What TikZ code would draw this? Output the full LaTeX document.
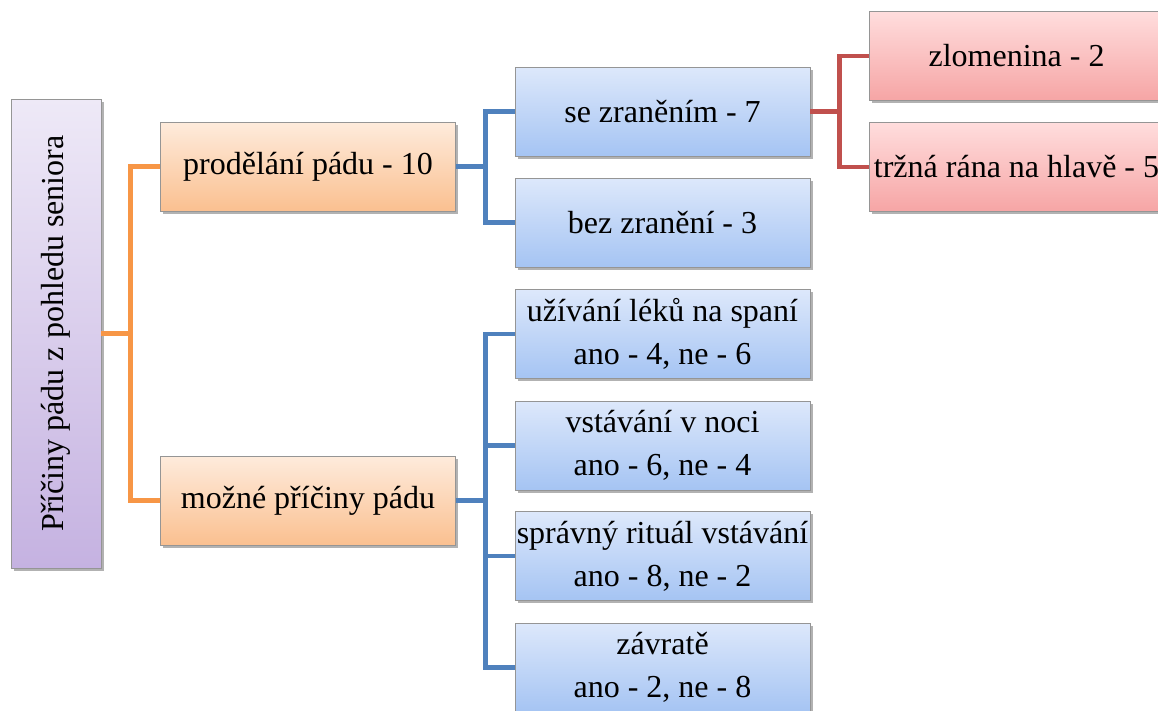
\documentclass[tikz,border=0pt]{standalone}
\usepackage{fontspec}
\usepackage{graphicx}
\setmainfont{Liberation Serif}
\usetikzlibrary{shadows,calc}

\definecolor{orTop}{HTML}{FEEBDC}
\definecolor{orBot}{HTML}{FAC090}
\definecolor{blTop}{HTML}{DDE8FB}
\definecolor{blBot}{HTML}{A5C4F3}
\definecolor{rdTop}{HTML}{FFDDDD}
\definecolor{rdBot}{HTML}{F6A5A5}
\definecolor{puTop}{HTML}{EEE9F7}
\definecolor{puBot}{HTML}{C5B2E1}
\definecolor{orLine}{HTML}{F79646}
\definecolor{blLine}{HTML}{4F81BD}
\definecolor{rdLine}{HTML}{C0504D}
\definecolor{edge}{HTML}{959595}

\tikzset{
  box/.style={draw=edge, line width=0.8pt, inner sep=0pt,
    minimum width=295pt, minimum height=89pt, align=center,
    font=\fontsize{32}{43}\selectfont,
    drop shadow={shadow xshift=2.5pt, shadow yshift=-2.5pt, fill=black, opacity=0.3}},
  orbox/.style={box, top color=orTop, bottom color=orBot},
  blbox/.style={box, top color=blTop, bottom color=blBot},
  rdbox/.style={box, top color=rdTop, bottom color=rdBot},
  pubox/.style={box, top color=puTop, bottom color=puBot,
    minimum width=90pt, minimum height=469pt},
  link/.style={line width=4.5pt},
}

\begin{document}
\begin{tikzpicture}[x=1pt, y=-1pt]
  \useasboundingbox (0,0) rectangle (1158,710);

  % root
  \node[pubox] (root) at (56,333.5) {\rotatebox{90}{Příčiny pádu z pohledu seniora}};

  % second level
  \node[orbox] (o1) at (308,166.5) {prodělání pádu - 10};
  \node[orbox] (o2) at (308,500.5) {možné příčiny pádu};

  % third level
  \node[blbox] (b1) at (662.5,111.5) {se zraněním - 7};
  \node[blbox] (b2) at (662.5,222.5) {bez zranění - 3};
  \node[blbox] (b3) at (662.5,334) {užívání léků na spaní\\ano - 4, ne - 6};
  \node[blbox] (b4) at (662.5,445.5) {vstávání v noci\\ano - 6, ne - 4};
  \node[blbox] (b5) at (662.5,556) {správný rituál vstávání\\ano - 8, ne - 2};
  \node[blbox] (b6) at (662.5,667.5) {závratě\\ano - 2, ne - 8};

  % fourth level
  \node[rdbox] (r1) at (1016.5,56) {zlomenina - 2};
  \node[rdbox] (r2) at (1016.5,167) {tržná rána na hlavě - 5};

  % elbow points
  \coordinate (e0) at (130.5,333.5);
  \coordinate (e1) at (485.5,166.5);
  \coordinate (e2) at (485.5,500.5);
  \coordinate (e3) at (839.5,111.5);

  % connectors
  \draw[link, orLine] (root.east) -- (e0) |- (o1.west);
  \draw[link, orLine] (e0) |- (o2.west);

  \draw[link, blLine] (o1.east) -- (e1) |- (b1.west);
  \draw[link, blLine] (e1) |- (b2.west);

  \draw[link, blLine] (o2.east) -- (e2) |- (b3.west);
  \draw[link, blLine] (e2) |- (b4.west);
  \draw[link, blLine] (e2) |- (b5.west);
  \draw[link, blLine] (e2) |- (b6.west);

  \draw[link, rdLine] (b1.east) -- (e3) |- (r1.west);
  \draw[link, rdLine] (e3) |- (r2.west);
\end{tikzpicture}
\end{document}
